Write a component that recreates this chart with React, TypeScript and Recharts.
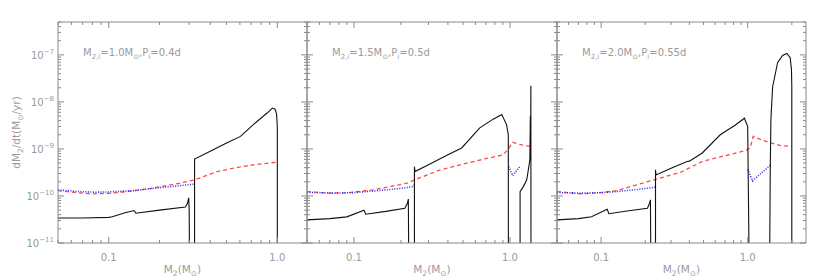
import React from 'react';
import { LineChart, Line, XAxis, YAxis } from 'recharts';

type Pt = [number, number];

// ---- data: [M2 (Msun), dM2/dt (Msun/yr)] ----
// panel 1: M2,i = 1.0, Pi = 0.4 d
const p1Solid1: Pt[] = [[0.05, 3.4e-11], [0.07, 3.4e-11], [0.1, 3.5e-11], [0.105, 3.6e-11], [0.125, 4.4e-11], [0.138, 4.8e-11], [0.141, 4.9e-11], [0.145, 4.3e-11], [0.2, 5.0e-11], [0.285, 5.8e-11], [0.293, 7.0e-11], [0.298, 9.1e-11], [0.3, 5.0e-11], [0.301, 1e-11]];
const p1Solid2: Pt[] = [[0.323, 1e-11], [0.323, 6.1e-10], [0.4, 8.9e-10], [0.5, 1.33e-9], [0.605, 1.85e-9], [0.72, 3.3e-9], [0.87, 5.8e-9], [0.935, 7.4e-9], [0.97, 7.0e-9], [0.99, 5.5e-9], [1.0, 3.0e-9], [1.0, 1e-11]];
const p1Dashed: Pt[] = [[0.05, 1.3e-10], [0.065, 1.17e-10], [0.078, 1.11e-10], [0.1, 1.13e-10], [0.14, 1.28e-10], [0.177, 1.45e-10], [0.25, 1.8e-10], [0.323, 2.2e-10], [0.44, 3.3e-10], [0.55, 3.9e-10], [0.72, 4.6e-10], [1.0, 5.25e-10]];
const p1Dotted: Pt[] = [[0.05, 1.35e-10], [0.065, 1.25e-10], [0.083, 1.2e-10], [0.1, 1.22e-10], [0.14, 1.3e-10], [0.2, 1.5e-10], [0.26, 1.65e-10], [0.323, 1.78e-10]];

// panel 2: M2,i = 1.5, Pi = 0.5 d
const p2Solid1: Pt[] = [[0.05, 3.1e-11], [0.07, 3.3e-11], [0.09, 3.6e-11], [0.116, 5.0e-11], [0.119, 4.1e-11], [0.16, 4.7e-11], [0.212, 5.5e-11], [0.22, 7.0e-11], [0.223, 8.6e-11], [0.224, 1e-11]];
const p2Solid2: Pt[] = [[0.244, 1e-11], [0.244, 4.2e-10], [0.246, 3.3e-10], [0.3, 4.6e-10], [0.4, 7.5e-10], [0.49, 1.05e-9], [0.64, 2.8e-9], [0.78, 4.3e-9], [0.885, 5.4e-9], [0.95, 3.3e-9], [0.975, 2.0e-9], [0.976, 1e-11]];
const p2Solid3: Pt[] = [[1.16, 1e-11], [1.16, 1.24e-10], [1.22, 1.6e-10], [1.28, 2.2e-10], [1.31, 3.6e-10], [1.34, 5.9e-10], [1.35, 5.0e-9], [1.355, 6.0e-10], [1.36, 2.2e-8], [1.362, 1e-11]];
const p2Dashed: Pt[] = [[0.05, 1.24e-10], [0.067, 1.15e-10], [0.09, 1.17e-10], [0.133, 1.35e-10], [0.22, 1.88e-10], [0.245, 2.2e-10], [0.35, 3.5e-10], [0.53, 5.0e-10], [0.7, 6.2e-10], [0.905, 7.5e-10], [0.976, 1.0e-9], [1.04, 1.38e-9], [1.15, 1.25e-9], [1.36, 1.13e-9]];
const p2Dotted1: Pt[] = [[0.05, 1.2e-10], [0.074, 1.15e-10], [0.1, 1.18e-10], [0.14, 1.29e-10], [0.2, 1.45e-10], [0.24, 1.59e-10], [0.245, 1.75e-10]];
const p2Dotted2: Pt[] = [[0.98, 4.2e-10], [1.04, 2.7e-10], [1.16, 4.3e-10]];

// panel 3: M2,i = 2.0, Pi = 0.55 d
const p3Solid1: Pt[] = [[0.05, 3.1e-11], [0.07, 3.3e-11], [0.086, 3.6e-11], [0.11, 5.2e-11], [0.113, 4.2e-11], [0.15, 4.8e-11], [0.207, 5.5e-11], [0.214, 7.0e-11], [0.217, 8.3e-11], [0.218, 1e-11]];
const p3Solid2: Pt[] = [[0.235, 1e-11], [0.235, 3.6e-10], [0.237, 2.8e-10], [0.3, 3.9e-10], [0.386, 5.4e-10], [0.4, 5.5e-10], [0.49, 8.2e-10], [0.65, 2.0e-9], [0.82, 3.2e-9], [0.95, 4.5e-9], [1.0, 3.0e-9], [1.02, 1e-11]];
const p3Solid3: Pt[] = [[1.415, 1e-11], [1.425, 3e-10], [1.44, 4.2e-9], [1.48, 2.1e-8], [1.6, 6.8e-8], [1.73, 9.7e-8], [1.85, 1.07e-7], [1.95, 8.7e-8], [1.99, 4.9e-8], [2.0, 2.1e-8], [2.0, 1e-11]];
const p3Dashed: Pt[] = [[0.05, 1.24e-10], [0.072, 1.11e-10], [0.1, 1.18e-10], [0.128, 1.3e-10], [0.229, 2.2e-10], [0.35, 3.2e-10], [0.49, 5.4e-10], [0.97, 9.3e-10], [1.04, 1.05e-9], [1.09, 1.85e-9], [1.25, 1.55e-9], [1.44, 1.34e-9], [1.68, 1.17e-9], [2.0, 1.13e-9]];
const p3Dotted1: Pt[] = [[0.05, 1.18e-10], [0.075, 1.15e-10], [0.1, 1.18e-10], [0.128, 1.24e-10], [0.18, 1.38e-10], [0.235, 1.54e-10]];
const p3Dotted2: Pt[] = [[1.0, 3.7e-10], [1.08, 2.1e-10], [1.44, 4.6e-10]];

const massInit = ['1.0', '1.5', '2.0'];
const periodInit = ['0.4', '0.5', '0.55'];
const xMin = 0.05;
const xMaxes = [1.5, 2.0, 2.5];
const yDomain: [number, number] = [1e-11, 5e-7];

const xTicks = [0.05, 0.06, 0.07, 0.08, 0.09, 0.1, 0.2, 0.3, 0.4, 0.5, 0.6, 0.7, 0.8, 0.9, 1, 2];
const yTicks = [-11, -10, -9, -8, -7]
  .flatMap((e) => [1, 2, 3, 4, 5, 6, 7, 8, 9].map((k) => k * Math.pow(10, e)))
  .filter((v) => v <= 5.0001e-7);

// ---- layout ----
const W = 830;
const H = 277;
const PLOT_TOP = 22;
const PLOT_BOTTOM = 243;
const edges = [58, 307, 557, 806];

const AXIS = '#8a8a8a';
const TEXT = '#9a9a9a';
const FONT = 'DejaVu Sans, sans-serif';

const isMajor = (v: number) => {
  const l = Math.log10(v);
  return Math.abs(l - Math.round(l)) < 1e-6;
};

const toRows = (a: Pt[]) => a.map(([m, v]) => ({ m, v }));

const XTick = (props: any) => {
  const { x, y, payload, side, showLabel } = props;
  const major = isMajor(payload.value);
  const len = major ? 6 : 3;
  const dir = side === 'bottom' ? -1 : 1;
  return (
    <g>
      <line x1={x} x2={x} y1={y} y2={y + dir * len} stroke={AXIS} />
      {showLabel && major && (
        <text x={x} y={y + 14} textAnchor="middle" dominantBaseline="central" fill={TEXT} fontSize={10} fontFamily={FONT}>
          {payload.value >= 1 ? payload.value.toFixed(1) : String(payload.value)}
        </text>
      )}
    </g>
  );
};

const YTick = (props: any) => {
  const { x, y, payload, side, showLabel } = props;
  const major = isMajor(payload.value);
  const len = major ? 6 : 3;
  const dir = side === 'left' ? 1 : -1;
  const exp = Math.round(Math.log10(payload.value));
  return (
    <g>
      <line x1={x} x2={x + dir * len} y1={y} y2={y} stroke={AXIS} />
      {showLabel && major && (
        <text x={x - 4} y={y + 4} textAnchor="end" fill={TEXT} fontSize={10} fontFamily={FONT}>
          10<tspan dy={-5} fontSize={7}>{'\u2212' + Math.abs(exp)}</tspan>
        </text>
      )}
    </g>
  );
};

const XTitle = (props: any) => {
  const vb = props.viewBox;
  return (
    <text x={vb.x + vb.width / 2} y={vb.y + 30} textAnchor="middle" fill={TEXT} fontSize={10.5} fontFamily={FONT}>
      M<tspan dy={3} fontSize={7.5}>2</tspan>
      <tspan dy={-3}>(M</tspan>
      <tspan dy={3} fontSize={7.5}>{'\u2299'}</tspan>
      <tspan dy={-3}>)</tspan>
    </text>
  );
};

const YTitle = (props: any) => {
  const vb = props.viewBox;
  const cx = vb.x + 12;
  const cy = vb.y + vb.height / 2;
  return (
    <text x={cx} y={cy} transform={`rotate(-90 ${cx} ${cy})`} textAnchor="middle" fill={TEXT} fontSize={10.5} fontFamily={FONT}>
      dM<tspan dy={3} fontSize={7.5}>2</tspan>
      <tspan dy={-3}>/dt(M</tspan>
      <tspan dy={3} fontSize={7.5}>{'\u2299'}</tspan>
      <tspan dy={-3}>/yr)</tspan>
    </text>
  );
};

const Note = (props: any) => {
  const vb = props.viewBox;
  const { mass, period } = props;
  return (
    <text x={vb.x + 25} y={vb.y + vb.height + 34} fill={TEXT} fontSize={10} fontFamily={FONT}>
      M<tspan dy={3} fontSize={7}>2,i</tspan>
      <tspan dy={-3}>={mass}M</tspan>
      <tspan dy={3} fontSize={7}>{'\u2299'}</tspan>
      <tspan dy={-3}>,P</tspan>
      <tspan dy={3} fontSize={7}>i</tspan>
      <tspan dy={-3}>={period}d</tspan>
    </text>
  );
};

interface PanelProps {
  idx: number;
  solid: Pt[][];
  dashed: Pt[][];
  dotted: Pt[][];
}

const Panel: React.FC<PanelProps> = ({ idx, solid, dashed, dotted }) => {
  const left = edges[idx];
  const right = edges[idx + 1];
  const xDomain: [number, number] = [xMin, xMaxes[idx]];
  const ticksX = xTicks.filter((t) => t <= xMaxes[idx] + 1e-9);
  const first = idx === 0;
  return (
    <div style={{ position: 'absolute', left: 0, top: 0, width: W, height: H }}>
      <LineChart
        width={W}
        height={H}
        margin={{ top: PLOT_TOP - 10, bottom: H - PLOT_BOTTOM - 20, left: left - 50, right: W - right - 10 }}
      >
        <XAxis
          xAxisId="b"
          dataKey="m"
          type="number"
          scale="log"
          domain={xDomain}
          allowDataOverflow
          ticks={ticksX}
          interval={0}
          height={20}
          tickSize={0}
          tickMargin={0}
          tickLine={false}
          axisLine={{ stroke: AXIS }}
          tick={(p: any) => <XTick {...p} side="bottom" showLabel />}
          label={(p: any) => <XTitle {...p} />}
        />
        <XAxis
          xAxisId="t"
          orientation="top"
          dataKey="m"
          type="number"
          scale="log"
          domain={xDomain}
          allowDataOverflow
          ticks={ticksX}
          interval={0}
          height={10}
          tickSize={0}
          tickMargin={0}
          tickLine={false}
          axisLine={{ stroke: AXIS }}
          tick={(p: any) => <XTick {...p} side="top" />}
          label={(p: any) => <Note {...p} mass={massInit[idx]} period={periodInit[idx]} />}
        />
        <YAxis
          yAxisId="l"
          dataKey="v"
          type="number"
          scale="log"
          domain={yDomain}
          allowDataOverflow
          ticks={yTicks}
          interval={0}
          width={50}
          tickSize={0}
          tickMargin={0}
          tickLine={false}
          axisLine={{ stroke: AXIS }}
          tick={(p: any) => <YTick {...p} side="left" showLabel={first} />}
          label={first ? (p: any) => <YTitle {...p} /> : undefined}
        />
        <YAxis
          yAxisId="r"
          orientation="right"
          dataKey="v"
          type="number"
          scale="log"
          domain={yDomain}
          allowDataOverflow
          ticks={yTicks}
          interval={0}
          width={10}
          tickSize={0}
          tickMargin={0}
          tickLine={false}
          axisLine={{ stroke: AXIS }}
          tick={(p: any) => <YTick {...p} side="right" />}
        />
        {dashed.map((s, i) => (
          <Line key={`d${i}`} xAxisId="b" yAxisId="l" data={toRows(s)} dataKey="v" type="linear"
            stroke="#ff4a4a" strokeWidth={1.3} strokeDasharray="4 3" dot={false} activeDot={false} isAnimationActive={false} />
        ))}
        {dotted.map((s, i) => (
          <Line key={`o${i}`} xAxisId="b" yAxisId="l" data={toRows(s)} dataKey="v" type="linear"
            stroke="#2b2bff" strokeWidth={1.6} strokeDasharray="1 1.5" dot={false} activeDot={false} isAnimationActive={false} />
        ))}
        {solid.map((s, i) => (
          <Line key={`s${i}`} xAxisId="b" yAxisId="l" data={toRows(s)} dataKey="v" type="linear"
            stroke="#111" strokeWidth={1.1} dot={false} activeDot={false} isAnimationActive={false} />
        ))}
      </LineChart>
    </div>
  );
};

export default function App() {
  return (
    <div style={{ position: 'absolute', left: 0, top: 0, width: W, height: H, background: '#fff' }}>
      <Panel idx={0} solid={[p1Solid1, p1Solid2]} dashed={[p1Dashed]} dotted={[p1Dotted]} />
      <Panel idx={1} solid={[p2Solid1, p2Solid2, p2Solid3]} dashed={[p2Dashed]} dotted={[p2Dotted1, p2Dotted2]} />
      <Panel idx={2} solid={[p3Solid1, p3Solid2, p3Solid3]} dashed={[p3Dashed]} dotted={[p3Dotted1, p3Dotted2]} />
    </div>
  );
}
